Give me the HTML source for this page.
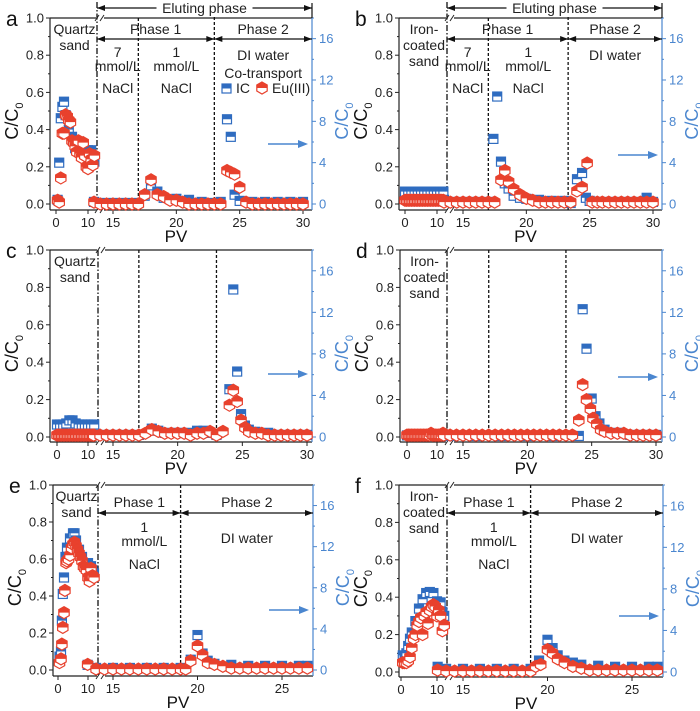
<!DOCTYPE html>
<html><head><meta charset="utf-8">
<style>
html,body{margin:0;padding:0;background:#fff;}
svg{display:block;font-family:"Liberation Sans",sans-serif;}
</style></head>
<body>
<svg id="fig" width="700" height="711" viewBox="0 0 700 711" xmlns="http://www.w3.org/2000/svg"></svg>
<script>
// ---------- DATA ----------
// panel a
const aEuPV=[0.5,1,1.5,2,2.5,3,3.5,4,4.5,5,5.5,6,6.5,7,7.5,8,8.5,9,9.5,10,10.5,11,11.5,12,13.5,14,14.5,15,15.5,16,16.5,17,17.5,18,18.5,19,19.5,20,20.5,21,21.5,22,22.5,23,23.5,24,24.3,24.6,25,25.5,26,26.5,27,27.5,28,28.5,29,29.5,30];
const aEu=[0.02,0.01,0.14,0.38,0.38,0.48,0.47,0.45,0.44,0.34,0.33,0.31,0.28,0.34,0.27,0.25,0.33,0.26,0.2,0.19,0.27,0.24,0.21,0.26,0.01,0,0,0,0,0,0,0,0.05,0.13,0.05,0.04,0.02,0.02,0.01,0,0,0,0,0,0,0.18,0.17,0.16,0.09,0.01,0,0,0,0,0,0,0,0,0];
const aIcPV=[0.5,1,1.5,2,2.5,3,4,5,6,7,8,9,10,11,12,13.5,14,15,16,17,17.5,18,18.5,19,20,21,22,23,23.5,24,24.3,24.6,25,26,27,28,29,30];
const aIc=[0.4,4,8.3,9.4,9.9,8.6,7.2,6.5,5.4,5.2,5,5,5.2,5.2,4.1,0.2,0.1,0.1,0.1,0.1,0.8,1.8,1.2,0.6,0.5,0.4,0.2,0.1,0.2,8.2,6.5,0.9,0.3,0.2,0.2,0.2,0.2,0.2];
// panel b
const bEuPV=[0,0.5,1,1.5,2,2.5,3,3.5,4,4.5,5,5.5,6,6.5,7,7.5,8,8.5,9,9.5,10,10.5,11,11.5,12,13.5,14,14.5,15,15.5,16,16.5,17,17.5,18,18.3,18.6,19,19.5,20,20.5,21,21.5,22,22.5,23,23.5,24,24.4,24.8,25.2,25.6,26,26.5,27,27.5,28,28.5,29,29.5,30];
const bEu=[0.02,0.02,0.02,0.02,0.02,0.02,0.02,0.02,0.02,0.02,0.02,0.02,0.02,0.02,0.02,0.02,0.02,0.02,0.02,0.02,0.02,0.02,0.02,0.02,0.02,0.01,0.01,0.01,0.01,0.01,0.01,0.01,0.01,0.01,0.13,0.18,0.12,0.08,0.05,0.03,0.02,0.01,0.01,0.01,0.01,0.01,0.01,0.07,0.09,0.22,0.01,0.01,0.01,0.01,0.01,0.01,0.01,0.01,0.01,0.01,0.01];
const bIcPV=[0,1,2,3,4,5,6,7,8,9,10,11,12,13.5,14,15,16,17,17.4,17.7,18,18.3,18.6,19,19.5,20,21,22,23,23.5,24,24.4,24.7,25,26,27,28,29,29.5,30];
const bIc=[1.2,1.2,1.2,1.2,1.2,1.2,1.2,1.2,1.2,1.2,1.2,1.2,1.2,0.4,0.2,0.2,0.2,0.2,6.3,10.4,4.1,2,1.5,0.8,0.6,0.5,0.4,0.3,0.3,0.1,2.4,3,0.6,0.3,0.2,0.2,0.2,0.2,0.6,0.2];
// panel c
const cEuPV=[0,0.5,1,1.5,2,2.5,3,3.5,4,4.5,5,5.5,6,6.5,7,7.5,8,8.5,9,9.5,10,10.5,11,11.5,12,13.5,14,14.5,15,15.5,16,16.5,17,17.5,18,18.5,19,19.5,20,20.5,21,21.5,22,22.5,23,23.5,24,24.3,24.6,24.9,25.2,25.5,26,26.5,27,27.5,28,28.5,29,29.5,30];
const cEu=[0.01,0.01,0.01,0.01,0.01,0.01,0.01,0.01,0.01,0.01,0.01,0.01,0.01,0.01,0.01,0.01,0.01,0.01,0.01,0.01,0.01,0.01,0.01,0.01,0.01,0.01,0.01,0.01,0.01,0.01,0.01,0.01,0.01,0.02,0.04,0.03,0.02,0.02,0.02,0.02,0.01,0.02,0.02,0.03,0.01,0.03,0.17,0.25,0.19,0.09,0.05,0.03,0.02,0.02,0.01,0.01,0.01,0.01,0.01,0.01,0.01];
const cIcPV=[0,1,2,3,4,5,6,7,8,9,10,11,12,13.5,14,15,16,17,18,18.5,19,20,21,21.5,22,22.5,23,24,24.3,24.6,24.9,25.2,25.5,26,27,28,29,30];
const cIc=[1.2,1.2,1.2,1.3,1.6,1.6,1.3,1.2,1.2,1.2,1.2,1.2,1.2,0.2,0.2,0.2,0.2,0.2,0.8,0.6,0.4,0.4,0.4,0.6,0.6,0.4,0.2,4.6,14.2,6.3,2.2,1.1,0.7,0.5,0.4,0.2,0.2,0.2];
// panel d
const dEuPV=[0,0.5,1,1.5,2,2.5,3,3.5,4,4.5,5,5.5,6,6.5,7,7.5,8,8.5,9,9.5,10,10.5,11,11.5,12,13.5,14,14.5,15,15.5,16,16.5,17,17.5,18,18.5,19,19.5,20,20.5,21,21.5,22,22.5,23,23.5,24,24.3,24.6,24.9,25.1,25.4,25.7,26,26.5,27,27.5,28,28.5,29,29.5,30];
const dEu=[0.01,0.01,0.01,0.01,0.01,0.01,0.01,0.01,0.01,0.01,0.01,0.01,0.01,0.01,0.01,0.01,0.02,0.01,0.01,0.01,0.01,0.01,0.01,0.01,0.02,0.01,0.01,0.01,0.01,0.01,0.01,0.01,0.01,0.01,0.01,0.01,0.01,0.01,0.01,0.01,0.01,0.01,0.01,0.01,0.01,0.01,0.09,0.28,0.2,0.15,0.1,0.07,0.04,0.03,0.02,0.02,0.02,0.01,0.01,0.01,0.01,0.01];
const dIcPV=[0,2,4,6,8,10,12,14,16,18,20,22,24,24.3,24.6,25,25.3,25.6,26,27,28,29,30];
const dIc=[0.15,0.15,0.15,0.15,0.15,0.15,0.15,0.1,0.1,0.1,0.1,0.1,0.1,12.3,8.5,3.7,2,1.3,0.7,0.4,0.2,0.2,0.2];
// panel e
const eEuPV=[0.5,1,1.3,1.6,2,2.3,2.7,3,3.5,4,4.5,5,5.5,6,6.5,7,7.5,8,8.5,9,9.5,10,10.5,11,11.5,12,13.5,14,14.5,15,15.5,16,16.5,17,17.5,18,18.5,19,19.3,19.6,20,20.3,20.6,21,21.5,22,22.5,23,23.5,24,24.5,25,25.5,26,26.5];
const eEu=[0.04,0.06,0.14,0.23,0.31,0.43,0.58,0.59,0.6,0.62,0.66,0.68,0.69,0.67,0.65,0.63,0.61,0.59,0.56,0.55,0.54,0.5,0.48,0.55,0.51,0.5,0.03,0.005,0.005,0.005,0.005,0.005,0.005,0.005,0.005,0.005,0.005,0.005,0.005,0.05,0.13,0.08,0.04,0.03,0.02,0.01,0.01,0.01,0.01,0.01,0.01,0.01,0.01,0.01,0.01];
const eIcPV=[0.5,1,1.3,1.6,2,2.5,3,4,5,5.5,6,7,8,9,10,11,11.5,12,13.5,14,15,16,17,18,19,19.6,20,20.3,20.6,21,22,23,24,25,26,26.5];
const eIc=[1.3,1.8,4.8,7.4,9,11,11.9,12.8,13.3,13.3,12.6,11.7,11,10.4,10.4,10.1,9.7,9.4,0.5,0.2,0.2,0.2,0.2,0.2,0.2,1,3.4,1.6,0.9,0.6,0.5,0.4,0.4,0.4,0.4,0.4];
// panel f
const fEuPV=[0.5,1,1.5,2,2.5,3,3.5,4,4.5,5,5.5,6,6.5,7,7.5,8,8.5,9,9.5,10,10.5,11,11.5,12,13.5,14,14.5,15,15.5,16,16.5,17,17.5,18,18.5,19,19.3,19.6,20,20.3,20.6,21,21.5,22,22.5,23,23.5,24,24.5,25,25.5,26,26.5];
const fEu=[0.05,0.05,0.05,0.06,0.08,0.13,0.18,0.2,0.25,0.27,0.29,0.2,0.3,0.32,0.26,0.33,0.35,0.36,0.35,0.3,0.33,0.3,0.22,0.25,0.01,0.005,0.005,0.005,0.005,0.005,0.005,0.005,0.005,0.005,0.005,0.005,0.03,0.04,0.12,0.1,0.07,0.05,0.03,0.02,0.01,0.01,0.01,0.01,0.01,0.01,0.01,0.01,0.01];
const fIcPV=[0.5,1,1.5,2,2.5,3,4,5,6,7,8,9,10,11,11.5,12,13.5,14,15,16,17,18,19,19.5,20,20.3,20.6,21,21.5,22,23,24,25,26,26.5];
const fIc=[1.6,1.4,1.8,2.5,3.2,3.8,4.9,6.1,7,7.6,7.7,7.6,6.8,6.7,5.8,5.4,0.5,0.3,0.3,0.3,0.3,0.3,0.3,1.1,3.1,2.3,1.6,1.1,0.9,0.7,0.6,0.5,0.5,0.5,0.5];

const leftTicks=[0,0.2,0.4,0.6,0.8,1.0];
const rightTicks=[0,4,8,12,16];

// ---------- LAYOUT ----------
const panels=[
 {id:'a',L:50,R:312,T:18,y0:204,B:210,x0:56,x10:88,brk:97,xa:15,xaPx:113,xb:30,xbPx:303,xt:[0,10,15,20,25,30],euPV:aEuPV,eu:aEu,icPV:aIcPV,ic:aIc,sand:['Quartz','sand'],arrowY:144,vlines:[17,23],mode:'full',legend:true},
 {id:'b',L:399,R:662,T:18,y0:204,B:210,x0:405,x10:437,brk:447,xa:15,xaPx:463,xb:30,xbPx:653,xt:[0,10,15,20,25,30],euPV:bEuPV,eu:bEu,icPV:bIcPV,ic:bIc,sand:['Iron-','coated','sand'],arrowY:155,vlines:[17,23.3],mode:'full',legend:false},
 {id:'c',L:50,R:312,T:250,y0:437,B:442,x0:57,x10:88,brk:98,xa:15,xaPx:113,xb:30,xbPx:307,xt:[0,10,15,20,25,30],euPV:cEuPV,eu:cEu,icPV:cIcPV,ic:cIc,sand:['Quartz','sand'],arrowY:374,vlines:[17,23],mode:'none'},
 {id:'d',L:400,R:662,T:250,y0:437,B:442,x0:407,x10:437,brk:447,xa:15,xaPx:463,xb:30,xbPx:656,xt:[0,10,15,20,25,30],euPV:dEuPV,eu:dEu,icPV:dIcPV,ic:dIc,sand:['Iron-','coated','sand'],arrowY:377,vlines:[17,23],mode:'none'},
 {id:'e',L:53,R:313,T:485,y0:670,B:676,x0:58,x10:88,brk:98,xa:15,xaPx:113,xb:25,xbPx:282,xt:[0,10,15,20,25],euPV:eEuPV,eu:eEu,icPV:eIcPV,ic:eIc,sand:['Quartz','sand'],arrowY:610,vlines:[19],mode:'short'},
 {id:'f',L:399,R:663,T:485,y0:672,B:677,x0:401,x10:437,brk:447,xa:15,xaPx:463,xb:25,xbPx:632,xt:[0,10,15,20,25],euPV:fEuPV,eu:fEu,icPV:fIcPV,ic:fIc,sand:['Iron-','coated','sand'],arrowY:616,vlines:[19],mode:'short'}
];

const NS='http://www.w3.org/2000/svg';
const svg=document.getElementById('fig');
const BLUE='#2f6cc0', LBLUE='#4a86cf', RED='#e8412d';
function mk(tag,attrs,parent){const e=document.createElementNS(NS,tag);for(const k in attrs)e.setAttribute(k,attrs[k]);(parent||svg).appendChild(e);return e;}
function txt(x,y,s,size,fill,anchor,parent){const t=mk('text',{x:x,y:y,'font-size':size,fill:fill||'#1a1a1a','text-anchor':anchor||'middle'},parent);t.textContent=s;return t;}

function arrow(g,x1,x2,y,left,right){
  mk('line',{x1:x1,y1:y,x2:x2,y2:y,stroke:'#111','stroke-width':1.2},g);
  if(left)mk('polygon',{points:`${x1},${y} ${x1+8},${y-3} ${x1+8},${y+3}`,fill:'#111'},g);
  if(right)mk('polygon',{points:`${x2},${y} ${x2-8},${y-3} ${x2-8},${y+3}`,fill:'#111'},g);
}
function hexMarker(parent,x,y){
  const r=6,h=r*0.866;
  mk('polygon',{points:`${x},${y-r} ${x+h},${y-r/2} ${x+h},${y+r/2} ${x},${y+r} ${x-h},${y+r/2} ${x-h},${y-r/2}`,fill:'#fff',stroke:RED,'stroke-width':1.2},parent);
  mk('polygon',{points:`${x-h},${y} ${x-h},${y-r/2} ${x},${y-r} ${x+h},${y-r/2} ${x+h},${y}`,fill:RED},parent);
}

const FS=14, TS=13;
panels.forEach(p=>{
  const g=mk('g',{});
  
  
  const xs=pv=> pv<=12.5 ? p.x0+pv*(p.x10-p.x0)/10 : p.xaPx+(pv-p.xa)*(p.xbPx-p.xaPx)/(p.xb-p.xa);
  const yl=v=> p.y0-v*(p.y0-p.T);
  const yr=v=> yl(v/18);

  const ax=mk('g',{},g);
  
  
  mk('line',{x1:p.L,y1:p.T,x2:p.L,y2:p.B,stroke:'#222','stroke-width':1.2},ax);
  mk('line',{x1:p.L,y1:p.B,x2:p.R,y2:p.B,stroke:'#222','stroke-width':1.2},ax);
  mk('line',{x1:p.L,y1:p.T,x2:p.R,y2:p.T,stroke:'#222','stroke-width':1.2},ax);
  mk('line',{x1:p.R,y1:p.T,x2:p.R,y2:p.B,stroke:LBLUE,'stroke-width':1.2},ax);
  [p.T,p.B].forEach(yy=>{
    mk('rect',{x:p.brk-1,y:yy-3,width:8,height:6,fill:'#fff'},ax);
    mk('line',{x1:p.brk-2,y1:yy+3,x2:p.brk+2,y2:yy-3,stroke:'#222','stroke-width':1},ax);
    mk('line',{x1:p.brk+3,y1:yy+3,x2:p.brk+7,y2:yy-3,stroke:'#222','stroke-width':1},ax);
  });
  leftTicks.forEach(v=>{
    const y=yl(v);
    mk('line',{x1:p.L-4,y1:y,x2:p.L,y2:y,stroke:'#222'},ax);
    const t=txt(p.L-6,y+4.5,v.toFixed(1),TS,'#222','end',ax);
    
    
    if(v<1){mk('line',{x1:p.L-2,y1:yl(v+0.1),x2:p.L,y2:yl(v+0.1),stroke:'#222'},ax);}
  });
  rightTicks.forEach(v=>{
    const y=yr(v);
    mk('line',{x1:p.R,y1:y,x2:p.R+4,y2:y,stroke:LBLUE},ax);
    mk('line',{x1:p.R,y1:yr(v+2),x2:p.R+2,y2:yr(v+2),stroke:LBLUE},ax);
    const t=txt(p.R+7,y+4.5,String(v),TS,LBLUE,'start',ax);
    
    
  });
  p.xt.forEach(v=>{
    const x=xs(v);
    mk('line',{x1:x,y1:p.B,x2:x,y2:p.B+4,stroke:'#222'},ax);
    const t=txt(x,p.B+17,String(v),TS,'#222','middle',ax);
    
    
  });
  const cx=(p.L+p.R)/2-5;
  const xt=txt(cx,p.B+32,'PV',17,'#111','middle',g);
  
  
  const ym=(p.T+p.y0)/2+10;
  const lt=mk('text',{x:0,y:0,'font-size':18,fill:'#111','text-anchor':'middle',transform:`translate(${p.L-32},${ym}) rotate(-90)`},g);
  lt.innerHTML='C/C<tspan font-size="11" dy="5">0</tspan>';
  
  
  const rt=mk('text',{x:0,y:0,'font-size':18,fill:LBLUE,'text-anchor':'middle',transform:`translate(${p.R+36},${ym}) rotate(-90)`},g);
  rt.innerHTML='C/C<tspan font-size="11" dy="5">0</tspan>';
  
  
  const pl=txt(p.L-44,p.T+8,p.id,21,'#111','start',g);
  
  

  const topY = p.mode==='full'? 2 : p.T;
  mk('line',{x1:p.brk,y1:topY,x2:p.brk,y2:p.B,stroke:'#111','stroke-width':1.3,'stroke-dasharray':'6,2,1.5,2'},g);
  p.vlines.forEach(v=>{
    mk('line',{x1:xs(v),y1:p.mode==='full'&&v>20?2:p.T,x2:xs(v),y2:p.B,stroke:'#111','stroke-width':1.3,'stroke-dasharray':'3,2'},g);
  });

  p.sand.forEach((s,i)=>{
    const t=txt((p.L+p.brk)/2+1,p.T+16+i*16,s,FS,'#222','middle',g);
    
    
  });

  if(p.mode==='full'){
    const v1=xs(p.vlines[0]), v2=xs(p.vlines[1]);
    arrow(g,p.brk,p.R,8,true,true);
    mk('line',{x1:p.R,y1:3,x2:p.R,y2:p.T,stroke:'#111','stroke-width':1.2},g);
    mk('rect',{x:(p.brk+p.R)/2-48,y:0,width:96,height:16,fill:'#fff'},g);
    const et=txt((p.brk+p.R)/2,13,'Eluting phase',FS,'#222','middle',g);
    
    
    arrow(g,p.brk,v2,39,true,true);
    arrow(g,v2,p.R,39,true,true);
    txt((p.brk+v2)/2,34,'Phase 1',FS,'#222','middle',g);
    txt((v2+p.R)/2,34,'Phase 2',FS,'#222','middle',g);
    const c7=(p.brk+v1)/2;
    txt(c7,57,'7',FS,'#222','middle',g);
    txt(c7,71,'mmol/L',FS,'#222','middle',g);
    txt(c7,93,'NaCl',FS,'#222','middle',g);
    const c1=(v1+v2)/2;
    txt(c1,57,'1',FS,'#222','middle',g);
    txt(c1,71,'mmol/L',FS,'#222','middle',g);
    txt(c1,93,'NaCl',FS,'#222','middle',g);
    txt((v2+p.R)/2,60,'DI water',FS,'#222','middle',g);
    if(p.legend){
      txt((v2+p.R)/2,78,'Co-transport',FS,'#222','middle',g);
      const lg=mk('g',{},g);
      
      
      const sq=mk('g',{},lg);
      
      
      mk('rect',{x:222,y:84,width:9,height:9,fill:'#fff',stroke:BLUE,'stroke-width':1.2},sq);
      mk('rect',{x:222,y:84,width:9,height:4.5,fill:BLUE},sq);
      txt(236,93,'IC',FS,'#222','start',sq);
      const hx=mk('g',{},lg);
      
      
      hexMarker(hx,262,88);
      txt(272,93,'Eu(III)',FS,'#222','start',hx);
    }
  } else if(p.mode==='short'){
    const v1=xs(p.vlines[0]);
    const ay=p.T+28;
    arrow(g,p.brk,v1,ay,true,true);
    arrow(g,v1,p.R,ay,true,true);
    txt((p.brk+v1)/2,ay-6,'Phase 1',FS,'#222','middle',g);
    txt((v1+p.R)/2,ay-6,'Phase 2',FS,'#222','middle',g);
    const c1=(p.brk+v1)/2+5;
    txt(c1,ay+19,'1',FS,'#222','middle',g);
    txt(c1,ay+33,'mmol/L',FS,'#222','middle',g);
    txt(c1,ay+56,'NaCl',FS,'#222','middle',g);
    txt((v1+p.R)/2,ay+30,'DI water',FS,'#222','middle',g);
  }
  const ba=mk('g',{},g);
  
  
  mk('line',{x1:p.R-44,y1:p.arrowY,x2:p.R-12,y2:p.arrowY,stroke:LBLUE,'stroke-width':1.5},ba);
  mk('polygon',{points:`${p.R-4},${p.arrowY} ${p.R-14},${p.arrowY-4} ${p.R-14},${p.arrowY+4}`,fill:LBLUE},ba);

  const sIc=mk('g',{},g);
  
  
  p.icPV.forEach((pv,i)=>{
    const x=xs(pv), y=yr(p.ic[i]);
    const m=mk('g',{},sIc);
    
    
    mk('rect',{x:x-4.5,y:y-4.5,width:9,height:9,fill:'#fff',stroke:BLUE,'stroke-width':1.2},m);
    mk('rect',{x:x-4.5,y:y-4.5,width:9,height:4.5,fill:BLUE},m);
  });
  const sEu=mk('g',{},g);
  
  
  p.euPV.forEach((pv,i)=>{
    const m=mk('g',{},sEu);
    
    
    hexMarker(m,xs(pv),yl(p.eu[i]));
  });
});
</script>
</body></html>
